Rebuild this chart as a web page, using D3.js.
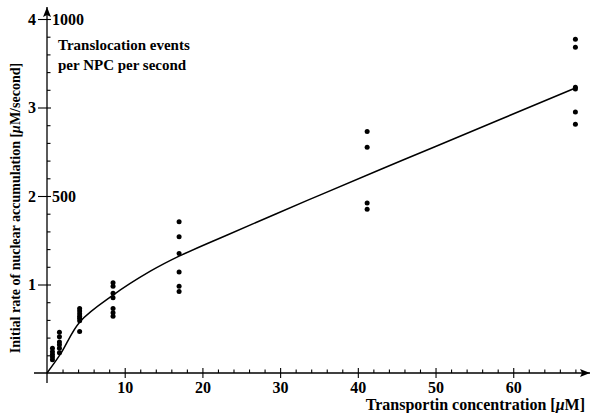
<!DOCTYPE html>
<html>
<head>
<meta charset="utf-8">
<script src="https://cdn.jsdelivr.net/npm/d3@7"></script>
<style>
  body { margin: 0; background: #fff; }
  text { font-family: "Liberation Serif", "DejaVu Serif", serif; font-weight: bold; fill: #000; }
</style>
</head>
<body>
<svg id="chart" width="591" height="413"></svg>
<script>
// concentration of each measured cluster (µM)
const clusterConc = [0.7, 1.6, 4.2, 8.5, 17, 41.2, 68];
// measured rates per cluster (µM/second)
const clusterRates = [
  [0.28, 0.24, 0.21, 0.18, 0.15],
  [0.46, 0.41, 0.35, 0.32, 0.28, 0.23],
  [0.73, 0.70, 0.67, 0.64, 0.62, 0.59, 0.47],
  [1.02, 0.98, 0.90, 0.85, 0.73, 0.68, 0.64],
  [1.71, 1.54, 1.35, 1.14, 0.98, 0.92],
  [2.73, 2.55, 1.92, 1.85],
  [3.77, 3.68, 3.23, 3.21, 2.95, 2.81]
];
// fitted curve
const fitConc = [0, 1.7, 4.25, 8.5, 13.3, 17, 23.2, 33.5, 42.9, 50, 68];
const fitRate = [0, 0.21, 0.58, 0.88, 1.15, 1.32, 1.56, 1.95, 2.30, 2.56, 3.22];

const xMajor = [10, 20, 30, 40, 50, 60];
const xMinor = d3.range(2, 69, 2).filter(v => v % 10 !== 0);
const yMajor = [1, 2, 3, 4];
const yMinor = d3.range(0.2, 4, 0.2).filter(v => Math.abs(v - Math.round(v)) > 0.01);
const yRight = [[2, "500"], [4, "1000"]];

const svg = d3.select("#chart");
const x = d3.scaleLinear().domain([0, 68]).range([47, 575.4]);
const y = d3.scaleLinear().domain([0, 4]).range([373, 19]);

// axis lines with arrows
svg.append("defs").append("marker")
  .attr("id", "arr").attr("viewBox", "0 0 10 10").attr("refX", 10).attr("refY", 5)
  .attr("markerWidth", 10).attr("markerHeight", 10).attr("markerUnits", "userSpaceOnUse")
  .attr("orient", "auto")
  .append("path").attr("d", "M0,1 L10,5 L0,9 L2,5 Z").attr("fill", "#000");

svg.append("line")
  .attr("x1", x(0) - 13).attr("x2", 590).attr("y1", y(0)).attr("y2", y(0))
  .attr("stroke", "#000").attr("stroke-width", 1.3).attr("marker-end", "url(#arr)");
svg.append("line")
  .attr("x1", x(0)).attr("x2", x(0)).attr("y1", y(0) + 10).attr("y2", 7)
  .attr("stroke", "#000").attr("stroke-width", 1.3).attr("marker-end", "url(#arr)");

// x ticks
const gx = svg.append("g").attr("transform", `translate(0,${y(0)})`);
gx.call(d3.axisBottom(x).tickValues(xMajor).tickSize(5).tickPadding(4).tickFormat(d3.format("d")));
gx.call(g => g.append("g").call(d3.axisTop(x).tickValues(xMajor).tickSize(5).tickFormat("")));
gx.call(g => g.append("g").call(d3.axisTop(x).tickValues(xMinor).tickSize(3.5).tickFormat("")));
gx.selectAll(".domain").remove();
gx.selectAll("text").attr("font-size", 16);
gx.selectAll("line").attr("stroke-width", 1.1);

// y ticks
const gy = svg.append("g").attr("transform", `translate(${x(0)},0)`);
gy.call(d3.axisLeft(y).tickValues(yMajor).tickSize(9).tickPadding(2).tickFormat(d3.format("d")));
gy.call(g => g.append("g").call(d3.axisRight(y).tickValues(yMajor).tickSize(4).tickFormat("")));
gy.call(g => g.append("g").call(d3.axisRight(y).tickValues(yMinor).tickSize(3.5).tickFormat("")));
gy.selectAll(".domain").remove();
gy.selectAll("text").attr("font-size", 16);
gy.selectAll("line").attr("stroke-width", 1.1);

// secondary labels (translocation events)
svg.selectAll(".rlab").data(yRight).enter().append("text")
  .attr("x", x(0) + 5).attr("y", d => y(d[0])).attr("dy", "0.35em")
  .attr("font-size", 16).text(d => d[1]);

// data points
const pts = clusterConc.flatMap((c, i) => clusterRates[i].map(r => ({ c, r })));
svg.selectAll(".pt").data(pts).enter().append("circle")
  .attr("cx", d => x(d.c)).attr("cy", d => y(d.r)).attr("r", 2.5).attr("fill", "#000");

// fitted curve
const line = d3.line().x((d, i) => x(fitConc[i])).y(d => y(d)).curve(d3.curveCatmullRom.alpha(0.5));
svg.append("path").datum(fitRate).attr("d", line)
  .attr("fill", "none").attr("stroke", "#000").attr("stroke-width", 1.5);

// annotation
const ann = svg.append("text").attr("x", 58).attr("font-size", 15);
ann.append("tspan").attr("x", 58).attr("y", 50).text("Translocation events");
ann.append("tspan").attr("x", 58).attr("y", 70).text("per NPC per second");

// axis titles
const xt = svg.append("text").attr("x", 585).attr("y", 410).attr("text-anchor", "end").attr("font-size", 16);
xt.append("tspan").text("Transportin concentration [");
xt.append("tspan").attr("font-style", "italic").text("\u03bc");
xt.append("tspan").text("M]");

const yt = svg.append("text").attr("transform", "translate(20,208) rotate(-90)")
  .attr("text-anchor", "middle").attr("font-size", 14);
yt.append("tspan").text("Initial rate of nuclear accumulation [");
yt.append("tspan").attr("font-style", "italic").text("\u03bc");
yt.append("tspan").text("M/second]");
</script>
</body>
</html>
